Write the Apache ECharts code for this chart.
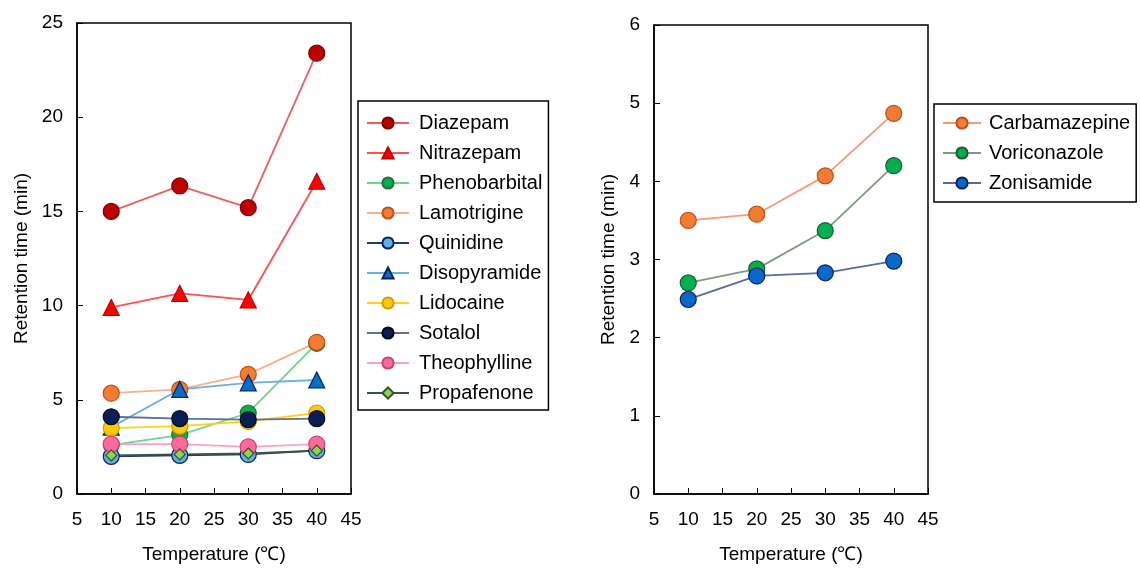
<!DOCTYPE html>
<html>
<head>
<meta charset="utf-8">
<script src="https://cdn.jsdelivr.net/npm/echarts@6/dist/echarts.min.js"></script>
<style>
  html, body { margin: 0; padding: 0; background: #fff; }
  #chart { width: 1140px; height: 569px; }
</style>
</head>
<body>
<div id="chart"></div>
<script>
// temperatures (°C)
const temps = [10, 20, 30, 40]

// left panel, retention time (min)
const diazepam = [15.0, 16.35, 15.2, 23.4]
const nitrazepam = [9.9, 10.65, 10.3, 16.6]
const phenobarbital = [2.6, 3.13, 4.3, 8.0]
const lamotrigine = [5.35, 5.55, 6.35, 8.05]
const quinidine = [2.0, 2.05, 2.1, 2.3]
const disopyramide = [3.55, 5.55, 5.9, 6.05]
const lidocaine = [3.5, 3.6, 3.85, 4.3]
const sotalol = [4.1, 4.0, 3.95, 4.0]
const theophylline = [2.65, 2.65, 2.5, 2.65]
const propafenone = [2.05, 2.1, 2.15, 2.3]

// right panel
const carbamazepine = [3.5, 3.58, 4.07, 4.87]
const voriconazole = [2.7, 2.88, 3.37, 4.2]
const zonisamide = [2.49, 2.79, 2.83, 2.98]

const leftNames = ['Diazepam', 'Nitrazepam', 'Phenobarbital', 'Lamotrigine', 'Quinidine',
  'Disopyramide', 'Lidocaine', 'Sotalol', 'Theophylline', 'Propafenone']
const rightNames = ['Carbamazepine', 'Voriconazole', 'Zonisamide']

const font = 'Liberation Sans, Arial, sans-serif'

function line(name, vals, idx, symbol, size, fill, border, stroke) {
  return {
    name: name,
    type: 'line',
    xAxisIndex: idx,
    yAxisIndex: idx,
    data: temps.map((t, i) => [t, vals[i]]),
    symbol: symbol,
    symbolSize: size,
    showAllSymbol: true,
    itemStyle: { color: fill, borderColor: border, borderWidth: 1.2, opacity: 1 },
    lineStyle: { color: stroke, width: 1.8 },
    emphasis: { disabled: true },
    animation: false
  }
}

function xAx(idx) {
  return {
    gridIndex: idx,
    type: 'value',
    min: 5, max: 45, interval: 5,
    name: 'Temperature (℃)',
    nameLocation: 'middle',
    nameGap: 51,
    nameTextStyle: { color: '#000', fontSize: 19, fontFamily: font },
    axisLine: { show: true, lineStyle: { color: '#000', width: 1.5 } },
    axisTick: { show: true, inside: true, length: 6, lineStyle: { color: '#000', width: 1 } },
    axisLabel: { color: '#000', fontSize: 19, fontFamily: font, margin: 16 },
    splitLine: { show: false }
  }
}

function yAx(idx, max, gap) {
  return {
    gridIndex: idx,
    type: 'value',
    min: 0, max: max, interval: max === 25 ? 5 : 1,
    name: 'Retention time (min)',
    nameLocation: 'middle',
    nameGap: gap,
    nameTextStyle: { color: '#000', fontSize: 19, fontFamily: font },
    axisLine: { show: true, lineStyle: { color: '#000', width: 1.5 } },
    axisTick: { show: true, inside: true, length: 6, lineStyle: { color: '#000', width: 1 } },
    axisLabel: { color: '#000', fontSize: 19, fontFamily: font, margin: 14 },
    splitLine: { show: false }
  }
}

function legend(names, left, top, pad, w, gap) {
  return {
    orient: 'vertical',
    left: left,
    top: top,
    data: names,
    itemWidth: w,
    itemHeight: 14,
    itemGap: 10,
    padding: pad,
    borderColor: '#000',
    borderWidth: 1.5,
    selectedMode: false,
    textStyle: { color: '#000', fontSize: 20, fontFamily: font, lineHeight: 19, padding: [0, 0, 0, gap] }
  }
}

const chart = echarts.init(document.getElementById('chart'))
chart.setOption({
  backgroundColor: '#fff',
  animation: false,
  grid: [
    { left: 77, top: 23, width: 274, height: 473, show: true, borderColor: '#000', borderWidth: 1.5, backgroundColor: 'transparent' },
    { left: 654, top: 25, width: 274, height: 471, show: true, borderColor: '#000', borderWidth: 1.5, backgroundColor: 'transparent' }
  ],
  xAxis: [xAx(0), xAx(1)],
  yAxis: [yAx(0, 25, 46), yAx(1, 6, 36)],
  legend: [
    legend(leftNames, 358, 101, [12, 6, 7, 8], 42, 5),
    legend(rightNames, 934, 104, [9, 6, 9, 8], 38, 3)
  ],
  series: [
    line('Diazepam', diazepam, 0, 'circle', 16, '#C00000', '#7A0000', '#E86060'),
    line('Nitrazepam', nitrazepam, 0, 'triangle', 16, '#FF0000', '#C00000', '#FF5050'),
    line('Phenobarbital', phenobarbital, 0, 'circle', 16, '#00B050', '#2E6B3A', '#6ED58F'),
    line('Lamotrigine', lamotrigine, 0, 'circle', 16, '#F47B30', '#C0501A', '#F8B088'),
    line('Quinidine', quinidine, 0, 'circle', 16, '#5FAEE6', '#0A2160', '#1F3A70'),
    line('Disopyramide', disopyramide, 0, 'triangle', 16, '#0070C8', '#0A2160', '#6AAEE8'),
    line('Lidocaine', lidocaine, 0, 'circle', 16, '#FFC800', '#D0A000', '#FFD21A'),
    line('Sotalol', sotalol, 0, 'circle', 16, '#0A1F55', '#000A20', '#60708F'),
    line('Theophylline', theophylline, 0, 'circle', 16, '#FF6A9C', '#D04070', '#FFA0C0'),
    line('Propafenone', propafenone, 0, 'diamond', 11, '#92D050', '#2F5528', '#3A5545'),
    line('Carbamazepine', carbamazepine, 1, 'circle', 16, '#F47B30', '#C0501A', '#F49A78'),
    line('Voriconazole', voriconazole, 1, 'circle', 16, '#00B050', '#1E5A2E', '#7E9A7E'),
    line('Zonisamide', zonisamide, 1, 'circle', 16, '#0868CC', '#0A2160', '#5A6A9E')
  ]
})
</script>
</body>
</html>
